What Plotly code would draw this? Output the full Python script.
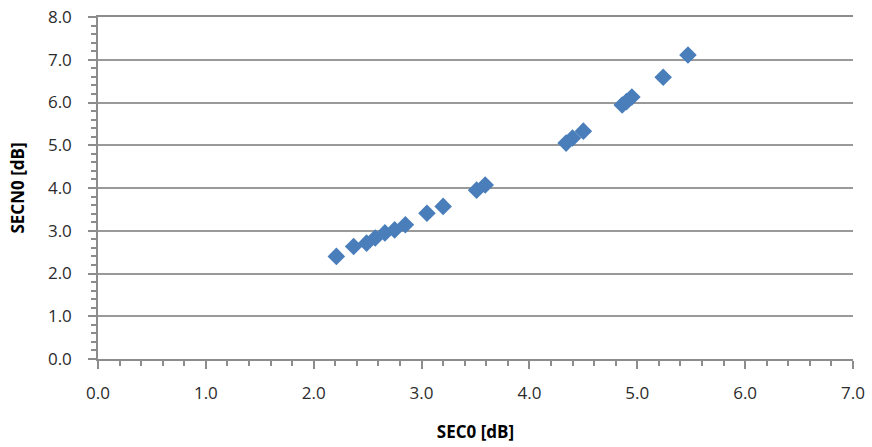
import plotly.graph_objects as go

sec0 = [2.21, 2.37, 2.49, 2.57, 2.66, 2.75, 2.85, 3.05, 3.20, 3.51, 3.59,
        4.34, 4.40, 4.50, 4.86, 4.90, 4.95, 5.24, 5.47]
secn0 = [2.40, 2.63, 2.71, 2.83, 2.95, 3.02, 3.14, 3.41, 3.57, 3.95, 4.07,
         5.05, 5.17, 5.33, 5.94, 6.02, 6.13, 6.59, 7.11]

x_ticks = [0, 1, 2, 3, 4, 5, 6, 7]
y_ticks = [0, 1, 2, 3, 4, 5, 6, 7, 8]

fig = go.Figure(go.Scatter(
    x=sec0, y=secn0, mode="markers",
    marker=dict(symbol="diamond", size=13.5, color="#4A7EBB", line=dict(width=0)),
))

fam = "'Open Sans', sans-serif"
font = dict(family=fam, size=17, color="#2B2B2B")
title_font = dict(family=fam, size=17, color="#000")
axis_common = dict(
    showline=True, linecolor="#8C8C8C", linewidth=1.5,
    ticks="outside", ticklen=8, tickcolor="#8C8C8C", tickwidth=1.5,
    tickformat=".1f", zeroline=False, tickfont=font, automargin=False,
    minor=dict(ticks="outside", ticklen=5, tickcolor="#8C8C8C", tickwidth=1.5, dtick=0.2, showgrid=False),
)
fig.update_xaxes(range=[0, 7], tickvals=x_ticks, showgrid=False, mirror=True,
                 ticklabelstandoff=10,
                 title=dict(text="<b>SEC0 [dB]</b>", font=title_font, standoff=23),
                 **axis_common)
fig.update_yaxes(range=[0, 8], tickvals=y_ticks, showgrid=True, gridcolor="#999999", gridwidth=1.5,
                 ticklabelstandoff=13,
                 title=dict(text="<b>SECN0 [dB]</b>", font=title_font, standoff=19),
                 **axis_common)
fig.update_layout(
    width=872, height=447,
    margin=dict(l=98, r=19, t=17, b=88),
    plot_bgcolor="white", paper_bgcolor="white",
    showlegend=False,
)
fig.write_html("out.html", config={"displayModeBar": False},
               post_script="document.body.style.margin='0';document.body.style.overflow='hidden';")
